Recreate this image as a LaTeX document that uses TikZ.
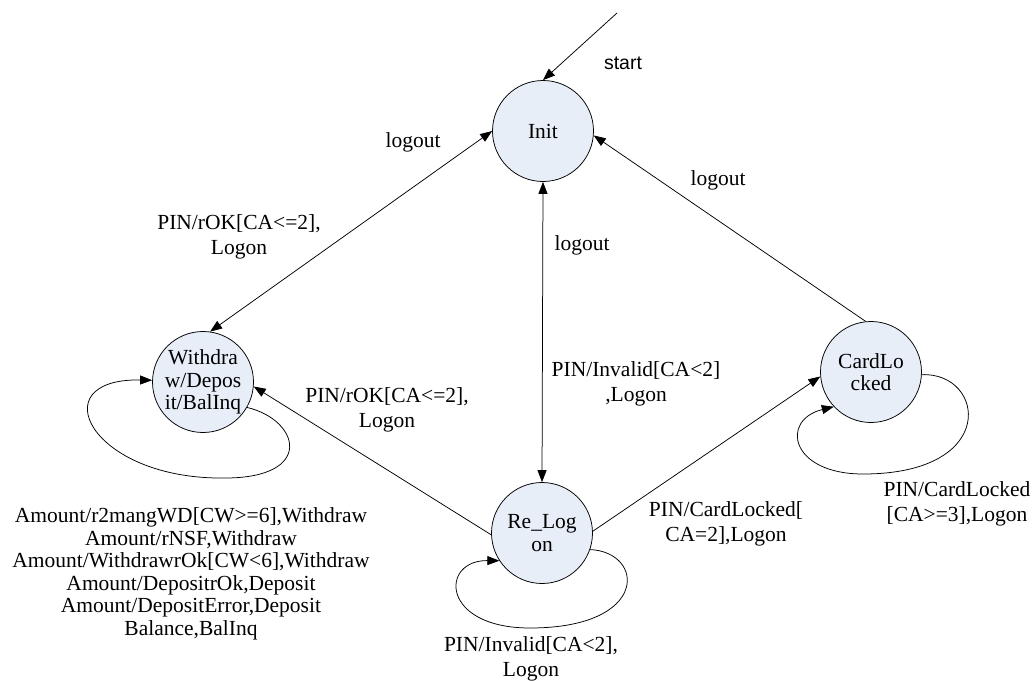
\documentclass[tikz,border=0pt]{standalone}
\usepackage{fontspec}
\setmainfont{Liberation Serif}
\newfontfamily\arialfont{Liberation Sans}
\usetikzlibrary{arrows.meta}
\definecolor{stfill}{RGB}{232,238,248}
\tikzset{
  state/.style={circle, draw=black, fill=stfill, line width=0.75pt, minimum size=101pt, inner sep=0pt},
  stxt/.style={align=center, inner sep=0pt, font=\fontsize{21.5}{22.5}\selectfont},
  lbl/.style={align=center, inner sep=0pt, font=\fontsize{21.5}{25}\selectfont},
  conn/.style={line width=0.75pt, -{Triangle[length=12pt,width=9pt]}},
  bconn/.style={line width=0.75pt, {Triangle[length=12pt,width=9pt]}-{Triangle[length=12pt,width=9pt]}}
}
\begin{document}
\begin{tikzpicture}[x=1pt,y=-1pt]
\useasboundingbox (0,0) rectangle (1033,680);
\fill[white] (0,0) rectangle (1033,680);
% states
\node[state] (I) at (543,131) {};
\node[stxt] (It) at (I) {Init};
\node[state] (W) at (203,382) {};
\node[stxt] (Wt) at (W) {Withdra\\w/Depos\\it/BalInq};
\node[state] (R) at (542,533) {};
\node[stxt] (Rt) at (R) {Re\_Log\\on};
\node[state] (C) at (871,372) {};
\node[stxt] (Ct) at (C) {CardLo\\cked};
% start
\coordinate (S) at (617,13);
\draw[conn] (S) -- (I.north);
\node[inner sep=0pt, font=\arialfont\fontsize{19.5}{22}\selectfont] (startl) at (623,63) {start};
% edges
\draw[bconn] (I.west) -- (W.82);
\draw[bconn] (I.south) -- (R.north);
\draw[conn] (C.96) -- (I.-5);
\draw[conn] (R.182) -- (W.-5);
\draw[conn] (R.2) -- (C.185);
% self loops
\draw[conn] (W.-30) .. controls (300,420) and (315,478) .. (225,478)
  .. controls (90,480) and (40,378) .. (W.178);
\draw[conn] (R.-19) .. controls (645,552) and (650,628) .. (530,628)
  .. controls (440,628) and (440,560) .. (R.-147);
\draw[conn] (C.-3) .. controls (985,372) and (1000,474) .. (863,474)
  .. controls (790,474) and (780,420) .. (C.-137);
% labels
\node[lbl] (l1) at (413,142) {logout};
\node[lbl] (l2) at (239,237) {PIN/rOK[CA<=2],\\Logon};
\node[lbl] (l3) at (582,245) {logout};
\node[lbl] (l4) at (718,180) {logout};
\node[lbl] (l5) at (636,384) {PIN/Invalid[CA<2]\\,Logon};
\node[lbl] (l6) at (387,410) {PIN/rOK[CA<=2],\\Logon};
\node[lbl] (l7) at (726,524) {PIN/CardLocked[\\CA=2],Logon};
\node[lbl] (l8) at (957,504) {PIN/CardLocked\\{}[CA>=3],Logon};
\node[lbl] (l9) at (531,659) {PIN/Invalid[CA<2],\\Logon};
\node[stxt] (l10) at (191,574) {Amount/r2mangWD[CW>=6],Withdraw\\Amount/rNSF,Withdraw\\Amount/WithdrawrOk[CW<6],Withdraw\\Amount/DepositrOk,Deposit\\Amount/DepositError,Deposit\\Balance,BalInq};
\end{tikzpicture}
\end{document}
